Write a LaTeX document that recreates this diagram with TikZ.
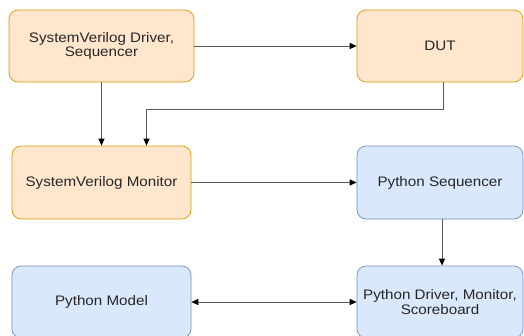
\documentclass[tikz,border=0pt]{standalone}
\usepackage{fontspec}
\setmainfont[FakeStretch=1.1]{Liberation Sans}
\usetikzlibrary{arrows.meta}
\definecolor{svfill}{HTML}{FFE6CC}
\definecolor{svline}{HTML}{D79B00}
\definecolor{pyfill}{HTML}{DAE8FC}
\definecolor{pyline}{HTML}{6C8EBF}
\tikzset{
  block/.style={rectangle, rounded corners=9pt, line width=0.7pt, align=center,
    font=\fontsize{13.8}{14.5}\selectfont, text=black!85},
  svblock/.style={block, draw=svline, fill=svfill},
  pyblock/.style={block, draw=pyline, fill=pyfill},
  link/.style={draw=black!65, line width=1pt, -{Triangle[length=7pt,width=6pt,color=black]}}
}
\begin{document}
\begin{tikzpicture}[x=1pt, y=1pt]
  \useasboundingbox (0,0) rectangle (524,-335);

  % upper row
  \node[svblock, minimum width=185pt, minimum height=72pt] (svdrv) at (101.5,-46) {SystemVerilog Driver,\\Sequencer};
  \node[svblock, minimum width=166pt, minimum height=72pt] (dut) at (440,-46) {DUT};
  % middle row
  \node[svblock, minimum width=179pt, minimum height=73pt] (svmon) at (101.5,-182.5) {SystemVerilog Monitor};
  \node[pyblock, minimum width=166pt, minimum height=73pt] (pyseq) at (440,-182.5) {Python Sequencer};
  % lower row
  \node[pyblock, minimum width=179pt, minimum height=72pt] (pymodel) at (101.5,-302) {Python Model};
  \node[pyblock, minimum width=166pt, minimum height=72pt] (pydrv) at (440,-302) {Python Driver, Monitor,\\Scoreboard};

  % connectors
  \draw[link] (svdrv) -- (dut);
  \draw[link] (svdrv) -- (svmon);
  \draw[link] ([xshift=3pt]dut.south) -- ++(0,-27) -| ([xshift=45pt]svmon.north);
  \draw[link] (svmon) -- (pyseq);
  \draw[link] ([xshift=2pt]pyseq.south) -- ([xshift=2pt]pydrv.north);
  \draw[link, {Triangle[length=7pt,width=6pt,color=black]}-{Triangle[length=7pt,width=6pt,color=black]}] (pymodel) -- (pydrv);
\end{tikzpicture}
\end{document}
